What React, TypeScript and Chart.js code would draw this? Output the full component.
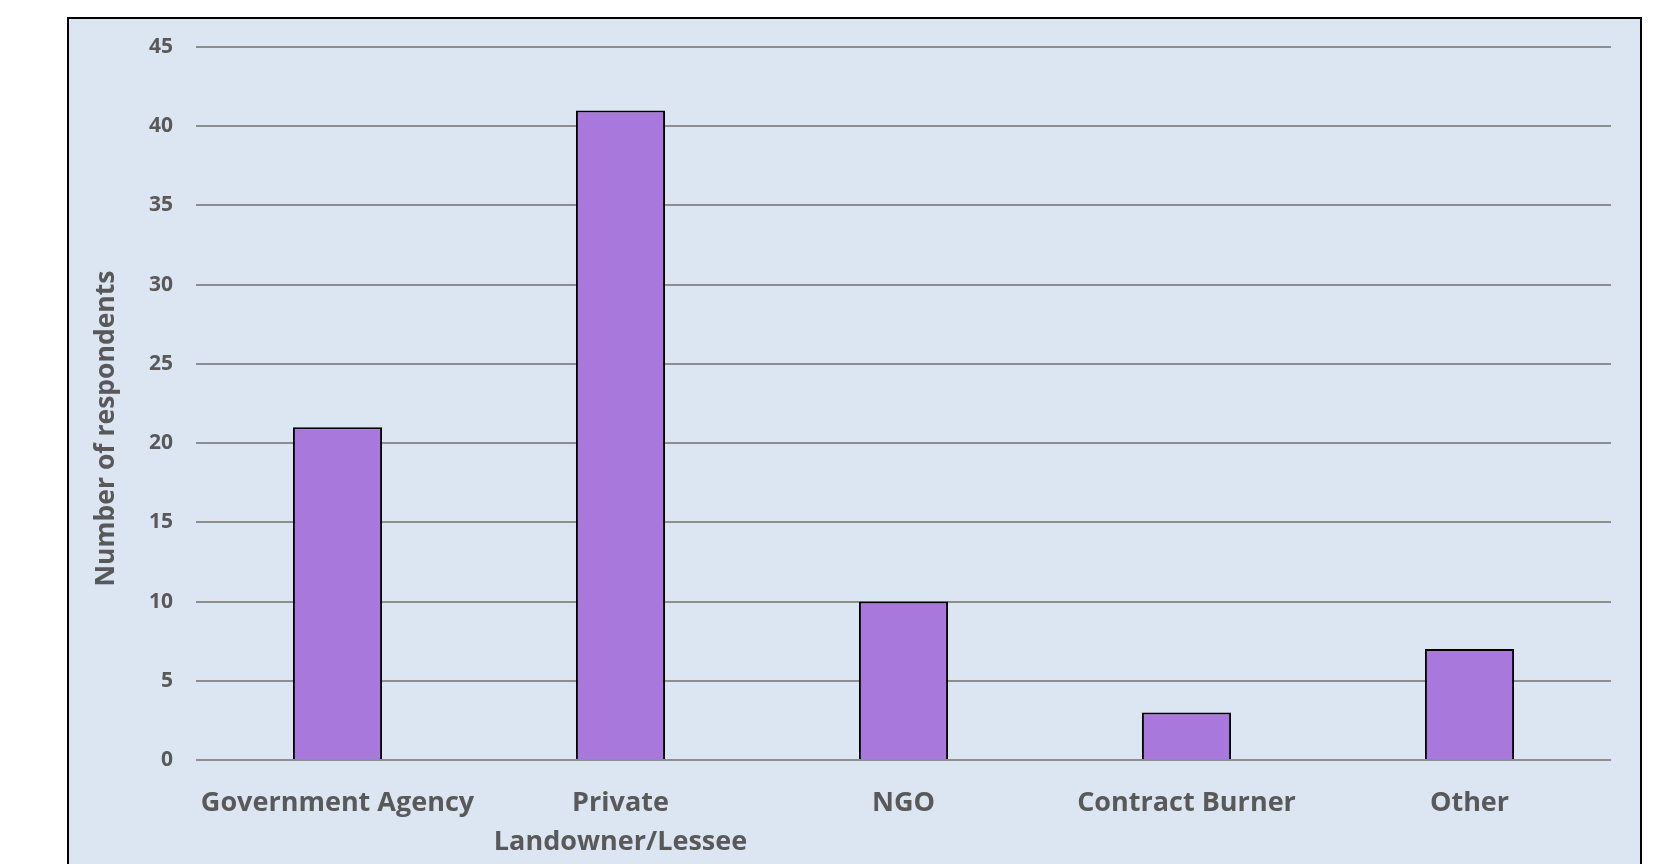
import React, { useEffect, useRef } from "react";
import { Chart, registerables } from "chart.js";

Chart.register(...registerables);

const categories: (string | string[])[] = [
  "Government Agency",
  ["Private", "Landowner/Lessee"],
  "NGO",
  "Contract Burner",
  "Other",
];
const respondents: number[] = [21, 41, 10, 3, 7];
const yTitle = "Number of respondents";
const yMin = 0;
const yMax = 45;
const yStep = 5;

const FONT = "'Open Sans', Lato, sans-serif";
const TEXT = "#595959";

const yTitlePlugin = {
  id: "yTitlePlugin",
  afterDraw(chart: any) {
    const { ctx, chartArea } = chart;
    ctx.save();
    ctx.fillStyle = TEXT;
    ctx.font = `bold 26.5px ${FONT}`;
    ctx.textAlign = "center";
    ctx.textBaseline = "alphabetic";
    ctx.translate(114, (chartArea.top + chartArea.bottom) / 2 + 25);
    ctx.rotate(-Math.PI / 2);
    ctx.fillText(yTitle, 0, 0);
    ctx.restore();
  },
};

export default function App() {
  const ref = useRef<HTMLCanvasElement | null>(null);
  useEffect(() => {
    if (!ref.current) return;
    const chart = new Chart(ref.current, {
      type: "bar",
      data: {
        labels: categories,
        datasets: [
          {
            data: respondents,
            backgroundColor: "#A978DC",
            borderColor: "#000000",
            borderWidth: 2,
            categoryPercentage: 1,
            barPercentage: 0.315,
          },
        ],
      },
      plugins: [yTitlePlugin],
      options: {
        animation: false,
        responsive: false,
        maintainAspectRatio: false,
        layout: { padding: { left: 0, right: 66, top: 47, bottom: 0 } },
        plugins: { legend: { display: false }, tooltip: { enabled: false } },
        scales: {
          x: {
            grid: { display: false, drawTicks: false },
            border: { display: false },
            ticks: {
              color: TEXT,
              padding: 24,
              maxRotation: 0,
              autoSkip: false,
              font: { family: FONT, size: 27, weight: "bold", lineHeight: 1.45 },
            },
            afterFit: (s: any) => {
              s.height = 104;
            },
          },
          y: {
            min: yMin,
            max: yMax,
            grid: { color: "#8E8E8E", lineWidth: 2, drawTicks: false },
            border: { display: false },
            ticks: {
              stepSize: yStep,
              color: TEXT,
              padding: 23,
              font: { family: FONT, size: 21, weight: "bold" },
            },
            afterFit: (s: any) => {
              s.width = 196;
            },
          },
        },
      },
    });
    return () => chart.destroy();
  }, []);

  return (
    <>
      <div
        style={{
          position: "fixed",
          left: 67,
          top: 17,
          width: 1575,
          height: 900,
          boxSizing: "border-box",
          background: "#DCE6F2",
          border: "2px solid #000",
        }}
      />
      <canvas
        ref={ref}
        width={1677}
        height={864}
        style={{ position: "fixed", left: 0, top: 0, width: 1677, height: 864 }}
      />
    </>
  );
}
